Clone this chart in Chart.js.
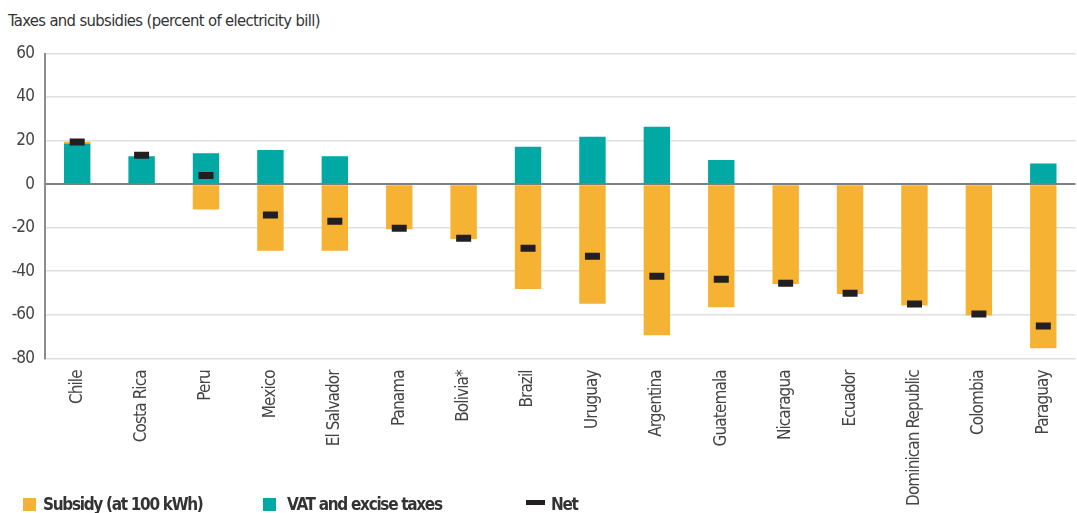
<!DOCTYPE html>
<html>
<head>
<meta charset="utf-8">
<script src="https://cdn.jsdelivr.net/npm/chart.js@4.4.1/dist/chart.umd.min.js"></script>
<style>
  html, body { margin: 0; padding: 0; background: #fff; overflow: hidden; }
  body { width: 1077px; height: 513px; position: relative; font-family: 'DejaVu Sans Condensed', 'DejaVu Sans', sans-serif; }
  #wrap { position: absolute; left: 0; top: 0; width: 1090px; height: 513px; }
  #title { position: absolute; left: 8px; top: 13px; font-size: 16.5px; line-height: 16.5px; letter-spacing: -0.65px; color: #333; white-space: nowrap; }
  .leg { position: absolute; top: 495px; font-size: 17px; line-height: 18px; font-weight: bold; letter-spacing: -1.3px; color: #333; white-space: nowrap; }
  .sw { position: absolute; }
</style>
</head>
<body>
<div id="title">Taxes and subsidies (percent of electricity bill)</div>
<div id="wrap"><canvas id="chart"></canvas></div>
<div class="sw" style="left:23px; top:498px; width:13px; height:13px; background:#f6b233"></div>
<div class="leg" style="left:43px">Subsidy (at 100 kWh)</div>
<div class="sw" style="left:263px; top:498px; width:13px; height:13px; background:#00a9a4"></div>
<div class="leg" style="left:287px">VAT and excise taxes</div>
<div class="sw" style="left:526px; top:500px; width:19px; height:5px; background:#231f20"></div>
<div class="leg" style="left:551px">Net</div>
<script>
const countries = [
  'Chile', 'Costa Rica', 'Peru', 'Mexico', 'El Salvador', 'Panama', 'Bolivia*', 'Brazil',
  'Uruguay', 'Argentina', 'Guatemala', 'Nicaragua', 'Ecuador', 'Dominican Republic', 'Colombia', 'Paraguay'
];
const subsidy = [0.8, 0, -11.6, -30.6, -30.6, -20.7, -25.2, -48.2, -54.9, -69.4, -56.5, -45.9, -50.5, -55.7, -60.3, -75.4];
const vatTaxes = [18.7, 12.8, 14.2, 15.7, 12.8, 0, 0, 17.2, 21.8, 26.4, 11.1, 0, 0, 0, 0, 9.5];
const net = [19.3, 13.3, 4.0, -14.2, -17.0, -20.3, -24.9, -29.4, -33.1, -42.3, -43.7, -45.5, -50.1, -55.1, -59.7, -65.2];
const yTicks = [60, 40, 20, 0, -20, -40, -60, -80];

const FONT = "'DejaVu Sans Condensed', 'DejaVu Sans', sans-serif";

// tighten the canvas lettering a little (canvas state resets on resize, so set it each pass)
const tightText = {
  id: 'tightText',
  beforeUpdate: (chart) => { chart.ctx.letterSpacing = '-0.9px'; },
  beforeDraw: (chart) => { chart.ctx.letterSpacing = '-0.9px'; }
};

new Chart(document.getElementById('chart'), {
  type: 'bar',
  data: {
    labels: countries,
    datasets: [
      { label: 'VAT and excise taxes', data: vatTaxes, backgroundColor: '#00a9a4', borderWidth: 0 },
      { label: 'Subsidy (at 100 kWh)', data: subsidy, backgroundColor: '#f6b233', borderWidth: 0 },
      {
        type: 'line', label: 'Net', data: net, stack: 'net', order: -1,
        showLine: false, pointStyle: 'line', pointRadius: 7.5, pointHoverRadius: 7.5,
        pointBorderWidth: 7, pointHoverBorderWidth: 7, borderColor: '#231f20', backgroundColor: '#231f20'
      }
    ]
  },
  plugins: [tightText],
  options: {
    responsive: true,
    maintainAspectRatio: false,
    animation: false,
    barPercentage: 0.41,
    categoryPercentage: 1,
    layout: { padding: { top: 53.5, right: 2, bottom: 0, left: 0 } },
    plugins: { legend: { display: false }, tooltip: { enabled: false }, title: { display: false } },
    scales: {
      x: {
        stacked: true,
        grid: { display: false },
        border: { display: false },
        ticks: { autoSkip: false, minRotation: 90, maxRotation: 90, padding: 4, color: '#444', font: { family: FONT, size: 17 } },
        afterFit: (scale) => { scale.height = 154.7; }
      },
      y: {
        stacked: true,
        min: -80,
        max: 60,
        afterBuildTicks: (scale) => { scale.ticks = yTicks.map(v => ({ value: v })); },
        grid: {
          drawTicks: false,
          color: (c) => c.tick && c.tick.value === 0 ? '#808080' : '#e0e0e0',
          lineWidth: (c) => c.tick && c.tick.value === 0 ? 2 : 1.5
        },
        border: { display: true, color: '#8c8c8c', width: 2 },
        ticks: { padding: 11, color: '#444', font: { family: FONT, size: 17 } },
        afterFit: (scale) => { scale.width = 45; }
      }
    }
  }
});
</script>
</body>
</html>
